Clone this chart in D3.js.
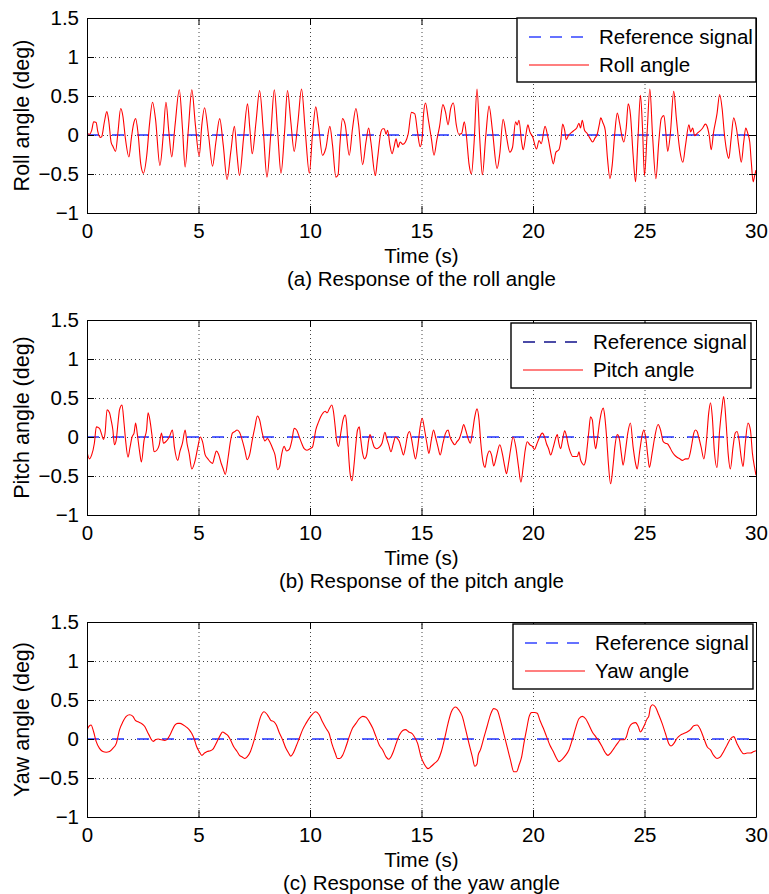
<!DOCTYPE html>
<html>
<head>
<meta charset="utf-8">
<script src="https://cdn.jsdelivr.net/npm/d3@7"></script>
<style>
  body { margin: 0; background: #fff; }
  svg { display: block; font-family: "Liberation Sans", Arial, Helvetica, sans-serif; }
</style>
</head>
<body>
<svg id="chart" width="769" height="894"></svg>
<script>
// --- data ---
const timeTicks = [0, 5, 10, 15, 20, 25, 30];
const angleTicks = [-1, -0.5, 0, 0.5, 1, 1.5];
const refTime = [0, 30];
const refAngle = [0, 0];

// [time (s), angle (deg)]
const rollSamples = [
  [0,0.02],[0.11,0.01],[0.21,0.06],[0.30,0.17],[0.41,0.16],[0.48,0.05],[0.59,-0.03],[0.66,-0.02],[0.78,0.17],[0.89,0.30],
  [0.98,0.17],[1.08,-0.09],[1.17,-0.15],[1.28,-0.21],[1.39,0.04],[1.51,0.34],[1.61,0.24],[1.72,-0.04],[1.88,-0.28],[1.99,-0.04],
  [2.08,0.13],[2.18,0.21],[2.29,0.02],[2.41,-0.37],[2.53,-0.49],[2.68,-0.26],[2.80,0.13],[2.94,0.42],[3.07,0.21],[3.27,-0.39],
  [3.42,0.0],[3.54,0.42],[3.67,0.04],[3.80,-0.28],[3.95,0.13],[4.14,0.58],[4.28,0.09],[4.40,-0.41],[4.55,0.09],[4.70,0.58],
  [4.86,0.13],[5.03,-0.27],[5.15,0.13],[5.27,0.35],[5.45,0.0],[5.63,-0.40],[5.78,-0.09],[5.95,0.21],[6.11,-0.13],[6.28,-0.57],
  [6.45,-0.21],[6.61,0.11],[6.73,-0.26],[6.84,-0.52],[7.02,-0.04],[7.20,0.40],[7.30,0.09],[7.41,-0.24],[7.58,0.17],[7.74,0.57],
  [7.91,0.04],[8.07,-0.54],[8.24,0.0],[8.40,0.58],[8.55,0.04],[8.70,-0.49],[8.86,0.04],[8.99,0.57],[9.14,0.17],[9.29,-0.21],
  [9.46,0.17],[9.62,0.59],[9.79,0.04],[9.97,-0.49],
  [10.11,0],[10.26,0.36],[10.38,0.13],[10.56,-0.26],[10.71,-0.17],[10.89,0.11],[11.01,-0.13],[11.16,-0.54],[11.26,-0.51],[11.34,-0.13],
  [11.46,0.21],[11.58,0.13],[11.76,-0.26],[11.91,0.09],[12.06,0.34],[12.18,0.13],[12.36,-0.38],[12.51,-0.09],[12.63,0.09],[12.73,-0.09],
  [12.93,-0.52],[13.03,-0.30],[13.18,0.04],[13.26,0.08],[13.33,0.08],[13.41,0.01],[13.48,0.06],[13.59,-0.14],[13.68,-0.24],[13.78,-0.14],
  [13.86,-0.05],[13.95,-0.16],[14.04,-0.09],[14.16,-0.12],[14.28,-0.09],[14.40,0.01],[14.55,0.29],[14.70,0.27],[14.82,0.04],[14.94,-0.15],
  [15.03,-0.04],[15.09,0.26],[15.18,0.41],[15.30,0.21],[15.45,-0.06],[15.56,-0.26],[15.69,-0.06],[15.81,0.11],[15.96,0.39],[16.08,0.29],
  [16.19,0.13],[16.31,0.34],[16.43,0.41],[16.56,0.13],[16.67,0.01],[16.80,0.02],[16.92,0.17],[17.01,0],[17.13,-0.37],[17.24,-0.50],
  [17.36,-0.09],[17.49,0.59],[17.61,-0.04],[17.73,-0.51],[17.88,-0.02],[18.03,0.37],[18.18,0.06],[18.39,-0.43],[18.51,-0.24],[18.66,0.20],
  [18.81,-0.02],[18.96,-0.22],[19.08,-0.16],[19.22,0.17],[19.29,0.13],[19.37,0.19],[19.49,-0.09],[19.56,-0.19],[19.68,0],[19.77,0.13],
  [19.86,0.04],[19.98,-0.02],
  [20.16,-0.18],[20.27,-0.07],[20.37,-0.11],[20.54,0.11],[20.67,-0.03],[20.82,-0.26],[20.91,-0.37],[21.03,-0.22],[21.16,-0.19],[21.24,-0.09],
  [21.33,0.14],[21.42,0.06],[21.49,-0.06],[21.60,0],[21.72,0.03],[21.84,0.06],[21.96,0.09],[22.06,0.15],[22.13,0.09],[22.21,0.19],
  [22.31,0.06],[22.43,0.02],[22.55,-0.04],[22.67,-0.09],[22.78,-0.04],[22.88,0.01],[22.97,0.13],[23.04,0.22],[23.13,0.16],[23.24,0.06],
  [23.34,-0.30],[23.45,-0.56],[23.55,-0.39],[23.66,0],[23.78,0.28],[23.88,0.16],[23.99,-0.02],[24.07,-0.09],[24.18,0.09],[24.27,0.40],
  [24.37,0.26],[24.49,-0.26],[24.60,-0.60],[24.70,-0.09],[24.82,0.51],[24.91,0.09],[25.00,-0.52],[25.12,0.04],[25.24,0.59],[25.36,0],
  [25.51,-0.56],[25.64,-0.09],[25.75,0.21],[25.87,0.25],[25.96,0.02],[26.04,-0.21],[26.16,0.02],[26.31,0.56],[26.43,0.21],[26.58,-0.19],
  [26.72,-0.35],[26.84,-0.13],[26.99,0.13],[27.07,0.04],[27.16,0.09],[27.25,-0.01],[27.36,0.02],[27.48,0.05],[27.61,0.09],[27.73,0.14],
  [27.84,0.08],[27.91,-0.02],[27.99,-0.19],[28.10,0.04],[28.25,0.27],[28.37,0.52],[28.48,0.34],[28.58,0.02],[28.67,-0.18],[28.78,-0.30],
  [28.88,-0.06],[29.00,0.22],[29.12,0.09],[29.24,-0.17],[29.34,-0.35],[29.45,-0.09],[29.54,0.09],[29.63,0.02],[29.72,-0.09],[29.79,-0.35],
  [29.87,-0.60],[29.94,-0.52],[30.0,-0.45]
];

const pitchSamples = [
  [0,-0.19],[0.11,-0.28],[0.21,-0.23],[0.33,-0.08],[0.42,0.13],[0.56,0.11],[0.66,0.03],[0.74,-0.03],[0.81,0.05],[0.90,0.35],
  [1.01,0.31],[1.08,0.22],[1.16,0.09],[1.23,-0.10],[1.31,-0.04],[1.39,0.18],[1.46,0.35],[1.57,0.41],[1.66,0.18],[1.73,-0.04],
  [1.84,-0.26],[1.93,-0.13],[2.02,0],[2.11,0.05],[2.18,0.18],[2.26,0.03],[2.36,-0.19],[2.44,-0.32],[2.56,-0.04],[2.67,0.09],
  [2.74,0.31],[2.83,0.20],[2.91,0.03],[3.01,-0.19],[3.13,-0.17],[3.24,-0.10],[3.34,0.05],[3.43,-0.08],[3.57,-0.05],[3.69,0],
  [3.83,0.09],[3.92,-0.13],[4.07,-0.30],[4.17,-0.18],[4.28,-0.08],[4.40,0.09],[4.49,-0.09],[4.58,-0.21],[4.70,-0.41],[4.85,-0.30],
  [4.97,-0.13],[5.08,0],[5.18,-0.06],[5.30,-0.23],[5.42,-0.28],[5.53,-0.32],[5.63,-0.34],[5.72,-0.25],[5.80,-0.18],[5.90,-0.22],
  [6.02,-0.34],[6.11,-0.41],[6.20,-0.48],[6.33,-0.26],[6.43,-0.06],[6.52,0.05],[6.63,0.07],[6.73,0.09],[6.84,0.06],[6.94,-0.02],
  [7.08,-0.17],[7.18,-0.29],[7.29,-0.23],[7.41,-0.04],[7.53,0.13],[7.64,0.27],[7.74,0.22],[7.86,0.05],[7.98,-0.05],[8.09,-0.02],
  [8.21,-0.07],[8.33,-0.15],[8.43,-0.23],[8.55,-0.42],[8.64,-0.38],[8.73,-0.22],[8.84,-0.12],[8.95,-0.18],[9.07,-0.16],[9.19,-0.04],
  [9.29,0.11],[9.40,0.09],[9.52,0],[9.64,-0.09],[9.74,-0.15],[9.86,-0.17],[10.0,-0.15],
  [10.11,-0.13],[10.18,-0.04],[10.26,0.09],[10.38,0.19],[10.48,0.26],[10.59,0.31],[10.68,0.33],[10.77,0.31],[10.86,0.36],[10.98,0.41],
  [11.05,0.33],[11.13,0.13],[11.20,-0.06],[11.28,-0.12],[11.38,0.05],[11.49,0.23],[11.58,0.28],[11.64,0.18],[11.71,-0.13],[11.79,-0.45],
  [11.88,-0.56],[11.98,-0.34],[12.06,-0.08],[12.13,0.09],[12.21,0.13],[12.28,-0.04],[12.36,-0.21],[12.45,-0.28],[12.54,-0.23],[12.63,-0.04],
  [12.69,0.03],[12.78,-0.04],[12.88,-0.13],[12.99,-0.15],[13.11,-0.13],[13.23,-0.08],[13.36,0.06],[13.44,-0.02],[13.53,-0.10],[13.63,-0.19],
  [13.74,-0.08],[13.83,0],[13.92,-0.02],[14.01,-0.06],[14.10,-0.15],[14.19,-0.23],[14.28,-0.13],[14.38,0.03],[14.46,0.07],[14.55,-0.02],
  [14.64,-0.17],[14.73,-0.28],[14.83,-0.13],[14.94,0.13],[15.03,0.24],[15.14,0.09],[15.24,-0.08],[15.33,-0.21],[15.44,-0.04],[15.54,0.09],
  [15.63,0],[15.74,-0.13],[15.84,-0.23],[15.96,-0.08],[16.08,0.05],[16.19,0.09],[16.28,0],[16.38,-0.06],[16.49,-0.10],[16.59,-0.06],
  [16.70,-0.02],[16.80,0.07],[16.89,0.16],[16.98,0.09],[17.09,-0.02],[17.19,-0.08],[17.28,0.05],[17.39,0.26],[17.49,0.36],[17.58,0.22],
  [17.66,-0.08],[17.76,-0.32],[17.85,-0.39],[17.94,-0.25],[18.05,-0.18],[18.14,-0.23],[18.24,-0.37],[18.36,-0.25],[18.51,-0.10],[18.63,-0.22],
  [18.74,-0.39],[18.81,-0.47],[18.90,-0.34],[18.99,-0.17],[19.11,0],[19.23,-0.13],[19.34,-0.36],[19.46,-0.58],[19.56,-0.38],[19.65,-0.17],
  [19.74,-0.06],[19.86,-0.10],[19.97,-0.12],
  [20.07,-0.16],[20.16,-0.10],[20.27,-0.02],[20.42,0.05],[20.52,0],[20.61,-0.09],[20.70,-0.15],[20.79,-0.23],[20.91,-0.13],[21.01,-0.02],
  [21.09,0.03],[21.16,-0.08],[21.24,-0.15],[21.33,-0.03],[21.42,0.08],[21.51,0],[21.58,-0.10],[21.67,-0.19],[21.78,-0.25],[21.88,-0.25],
  [21.99,-0.25],[22.06,-0.19],[22.13,-0.29],[22.21,-0.34],[22.28,-0.36],[22.36,-0.30],[22.43,-0.13],[22.51,0.09],[22.58,0.26],[22.66,0.22],
  [22.73,0],[22.81,-0.15],[22.88,-0.04],[23.0,0.22],[23.15,0.37],[23.22,0.26],[23.30,0],[23.37,-0.30],[23.48,-0.60],[23.60,-0.34],
  [23.67,-0.13],[23.78,0.03],[23.87,-0.02],[23.96,-0.21],[24.04,-0.36],[24.15,-0.17],[24.25,0.05],[24.37,0.18],[24.49,-0.13],[24.60,-0.34],
  [24.67,-0.41],[24.79,-0.17],[24.90,0.03],[24.97,0.09],[25.06,-0.02],[25.15,-0.25],[25.22,-0.39],[25.34,-0.21],[25.46,0],[25.61,0.16],
  [25.72,0.09],[25.84,-0.06],[25.94,-0.08],[26.04,-0.09],[26.13,-0.13],[26.24,-0.19],[26.34,-0.23],[26.46,-0.26],[26.58,-0.28],[26.70,-0.30],
  [26.84,-0.28],[26.96,-0.28],[27.06,-0.19],[27.13,-0.08],[27.21,0.05],[27.28,0.09],[27.36,0.07],[27.43,0],[27.54,-0.13],[27.66,-0.28],
  [27.78,-0.04],[27.88,0.31],[27.96,0.44],[28.04,0.26],[28.13,-0.17],[28.25,-0.39],[28.37,0.09],[28.48,0.39],[28.55,0.52],[28.66,0.18],
  [28.75,-0.21],[28.85,-0.41],[28.97,-0.13],[29.07,0.05],[29.15,0.07],[29.24,-0.04],[29.33,-0.25],[29.42,-0.38],[29.52,-0.08],[29.64,0.18],
  [29.75,0.09],[29.84,-0.21],[29.93,-0.38],[30.0,-0.49]
];

const yawSamples = [
  [0,0.12],[0.11,0.17],[0.18,0.18],[0.30,0.09],[0.41,-0.03],[0.56,-0.12],[0.71,-0.16],[0.86,-0.17],[1.01,-0.16],[1.16,-0.12],
  [1.31,-0.06],[1.46,0.12],[1.61,0.22],[1.76,0.29],[1.91,0.31],[2.06,0.29],[2.17,0.24],[2.29,0.22],[2.44,0.20],[2.59,0.16],
  [2.71,0.09],[2.82,0.03],[2.89,-0.01],[2.97,-0.03],[3.07,-0.01],[3.19,0],[3.34,-0.01],[3.49,-0.02],[3.61,0],[3.72,0.05],
  [3.83,0.12],[3.95,0.18],[4.07,0.20],[4.17,0.20],[4.32,0.18],[4.47,0.15],[4.58,0.12],[4.70,0.07],[4.82,-0.01],[4.92,-0.10],
  [5.03,-0.16],[5.15,-0.21],[5.27,-0.18],[5.39,-0.16],[5.53,-0.15],[5.65,-0.13],[5.75,-0.08],[5.87,-0.01],[5.98,0.05],[6.08,0.09],
  [6.20,0.07],[6.33,0.04],[6.43,-0.01],[6.58,-0.10],[6.73,-0.16],[6.84,-0.21],[6.96,-0.23],[7.08,-0.25],[7.18,-0.23],[7.33,-0.16],
  [7.48,-0.03],[7.64,0.14],[7.79,0.29],[7.94,0.35],[8.09,0.31],[8.24,0.24],[8.39,0.22],[8.49,0.18],[8.61,0.09],[8.77,-0.01],
  [8.92,-0.12],[9.04,-0.18],[9.14,-0.22],[9.25,-0.18],[9.37,-0.10],[9.52,0.01],[9.67,0.12],[9.82,0.20],[10.0,0.28],
  [10.26,0.35],[10.41,0.31],[10.56,0.22],[10.71,0.14],[10.86,0.07],[10.98,-0.06],[11.13,-0.18],[11.23,-0.25],[11.34,-0.25],[11.46,-0.21],
  [11.61,-0.10],[11.76,0.03],[11.91,0.14],[12.06,0.20],[12.21,0.26],[12.36,0.29],[12.51,0.28],[12.66,0.22],[12.81,0.14],[12.96,0.03],
  [13.11,-0.08],[13.26,-0.14],[13.41,-0.23],[13.53,-0.26],[13.63,-0.23],[13.74,-0.16],[13.86,-0.06],[14.01,0.05],[14.16,0.11],[14.28,0.12],
  [14.43,0.09],[14.58,0.07],[14.68,0.03],[14.83,-0.06],[14.98,-0.23],[15.14,-0.33],[15.29,-0.38],[15.44,-0.35],[15.59,-0.31],[15.74,-0.27],
  [15.89,-0.16],[16.04,0.01],[16.19,0.20],[16.34,0.35],[16.53,0.41],[16.68,0.37],[16.83,0.29],[16.98,0.12],[17.13,-0.06],[17.28,-0.23],
  [17.39,-0.35],[17.49,-0.32],[17.54,-0.21],[17.64,-0.14],[17.79,0.01],[17.94,0.16],[18.09,0.31],[18.24,0.39],[18.39,0.37],[18.54,0.24],
  [18.69,0.07],[18.84,-0.10],[18.99,-0.27],[19.14,-0.42],[19.26,-0.42],[19.38,-0.33],[19.49,-0.23],[19.59,-0.06],[19.71,0.12],[19.83,0.29],
  [19.94,0.34],[20.07,0.34],[20.19,0.33],[20.31,0.24],[20.46,0.14],[20.61,0.03],[20.76,-0.08],[20.91,-0.16],[21.06,-0.25],[21.16,-0.29],
  [21.31,-0.26],[21.46,-0.21],[21.61,-0.14],[21.76,-0.01],[21.91,0.14],[22.06,0.26],[22.21,0.29],[22.36,0.26],[22.51,0.18],[22.66,0.09],
  [22.81,0.03],[22.96,-0.03],[23.10,-0.10],[23.25,-0.18],[23.36,-0.21],[23.48,-0.18],[23.63,-0.12],[23.78,-0.06],[23.93,-0.01],[24.07,-0.01],
  [24.19,0.03],[24.30,0.14],[24.45,0.20],[24.60,0.21],[24.72,0.16],[24.82,0.09],[24.90,0.12],[25.0,0.18],[25.12,0.26],[25.19,0.29],
  [25.27,0.41],[25.36,0.44],[25.49,0.41],[25.64,0.31],[25.79,0.20],[25.94,0.07],[26.09,-0.06],[26.19,-0.09],[26.31,-0.06],[26.46,0.01],
  [26.61,0.05],[26.76,0.07],[26.91,0.09],[27.06,0.12],[27.21,0.17],[27.36,0.18],[27.51,0.12],[27.66,0.01],[27.81,-0.10],[27.96,-0.14],
  [28.10,-0.21],[28.25,-0.25],[28.40,-0.23],[28.55,-0.16],[28.70,-0.08],[28.85,0],[29.0,0.03],[29.15,-0.06],[29.30,-0.14],[29.45,-0.19],
  [29.60,-0.18],[29.75,-0.18],[29.90,-0.16],[30.0,-0.15]
];

// --- layout ---
const svg = d3.select('#chart');
const plotLeft = 87, plotRight = 756, plotHeight = 195;
const fontSize = 20.5;

const panels = [
  { top: 18,  samples: rollSamples,  yLabel: 'Roll angle (deg)',  name: 'Roll angle',
    caption: '(a) Response of the roll angle',  legend: { x: 517, y: 18, w: 239, h: 64 }, refColor: '#3344ff' },
  { top: 320, samples: pitchSamples, yLabel: 'Pitch angle (deg)', name: 'Pitch angle',
    caption: '(b) Response of the pitch angle', legend: { x: 511, y: 323, w: 240, h: 65 }, refColor: '#10108a' },
  { top: 622, samples: yawSamples,   yLabel: 'Yaw angle (deg)',   name: 'Yaw angle',
    caption: '(c) Response of the yaw angle',   legend: { x: 513, y: 624, w: 240, h: 65 }, refColor: '#3344ff' }
];

const fmt = v => String(v).replace('-', '\u2212');

panels.forEach((p, i) => {
  const x = d3.scaleLinear().domain([0, 30]).range([plotLeft, plotRight]);
  const y = d3.scaleLinear().domain([-1, 1.5]).range([p.top + plotHeight, p.top]);
  const bottom = p.top + plotHeight;
  const g = svg.append('g');

  // dotted grid
  g.append('g')
    .attr('transform', `translate(0,${bottom})`)
    .call(d3.axisBottom(x).tickValues(timeTicks.slice(1, -1)).tickSize(-plotHeight).tickFormat(''))
    .call(s => s.select('.domain').remove())
    .selectAll('line').attr('stroke', '#444').attr('stroke-dasharray', '1,3');
  g.append('g')
    .attr('transform', `translate(${plotLeft},0)`)
    .call(d3.axisLeft(y).tickValues(angleTicks.slice(1, -1)).tickSize(-(plotRight - plotLeft)).tickFormat(''))
    .call(s => s.select('.domain').remove())
    .selectAll('line').attr('stroke', '#444').attr('stroke-dasharray', '1,3');

  // curves
  const clipId = 'clip' + i;
  svg.append('clipPath').attr('id', clipId).append('rect')
    .attr('x', plotLeft).attr('y', p.top).attr('width', plotRight - plotLeft).attr('height', plotHeight);

  const refLine = d3.line().x((d, j) => x(refTime[j])).y(d => y(d));
  g.append('path')
    .attr('clip-path', `url(#${clipId})`)
    .attr('d', refLine(refAngle))
    .attr('fill', 'none').attr('stroke', '#2233ff')
    .attr('stroke-width', 1.6).attr('stroke-dasharray', '12,13');

  const line = d3.line().x(d => x(d[0])).y(d => y(d[1])).curve(d3.curveMonotoneX);
  g.append('path')
    .attr('clip-path', `url(#${clipId})`)
    .attr('d', line(p.samples))
    .attr('fill', 'none').attr('stroke', '#ff0000').attr('stroke-width', 1.1);

  // axes with inward ticks on all four sides
  const styleAxis = s => {
    s.select('.domain').attr('stroke', '#000').attr('stroke-width', 1);
    s.selectAll('.tick line').attr('stroke', '#000');
    s.selectAll('text').attr('font-size', fontSize).attr('font-family', 'Liberation Sans, Arial, sans-serif').attr('fill', '#000');
  };
  g.append('g').attr('transform', `translate(0,${bottom})`)
    .call(d3.axisBottom(x).tickValues(timeTicks).tickSize(-7).tickSizeOuter(0).tickPadding(10).tickFormat(fmt))
    .call(styleAxis);
  g.append('g').attr('transform', `translate(0,${p.top})`)
    .call(d3.axisTop(x).tickValues(timeTicks).tickSize(-7).tickSizeOuter(0).tickFormat(''))
    .call(styleAxis);
  g.append('g').attr('transform', `translate(${plotLeft},0)`)
    .call(d3.axisLeft(y).tickValues(angleTicks).tickSize(-7).tickSizeOuter(0).tickPadding(8).tickFormat(fmt))
    .call(styleAxis);
  g.append('g').attr('transform', `translate(${plotRight},0)`)
    .call(d3.axisRight(y).tickValues(angleTicks).tickSize(-7).tickSizeOuter(0).tickFormat(''))
    .call(styleAxis);

  // labels
  g.append('text')
    .attr('x', (plotLeft + plotRight) / 2).attr('y', bottom + 50)
    .attr('text-anchor', 'middle').attr('font-size', fontSize).text('Time (s)');
  g.append('text')
    .attr('x', (plotLeft + plotRight) / 2).attr('y', bottom + 73)
    .attr('text-anchor', 'middle').attr('font-size', fontSize).text(p.caption);
  g.append('text')
    .attr('transform', `translate(29,${p.top + plotHeight / 2}) rotate(-90)`)
    .attr('text-anchor', 'middle').attr('font-size', 21.5).text(p.yLabel);

  // legend
  const L = p.legend;
  const lg = g.append('g').attr('transform', `translate(${L.x},${L.y})`);
  lg.append('rect').attr('width', L.w).attr('height', L.h)
    .attr('fill', '#fff').attr('stroke', '#000').attr('stroke-width', 1.4);
  lg.append('line').attr('x1', 12).attr('x2', 72).attr('y1', 19).attr('y2', 19)
    .attr('stroke', p.refColor).attr('stroke-width', 1.3).attr('stroke-dasharray', '12,9');
  lg.append('text').attr('x', 82).attr('y', 26).attr('font-size', fontSize).text('Reference signal');
  lg.append('line').attr('x1', 12).attr('x2', 72).attr('y1', 47).attr('y2', 47)
    .attr('stroke', '#ff0000').attr('stroke-width', 1.1);
  lg.append('text').attr('x', 82).attr('y', 54).attr('font-size', fontSize).text(p.name);
});
</script>
</body>
</html>
